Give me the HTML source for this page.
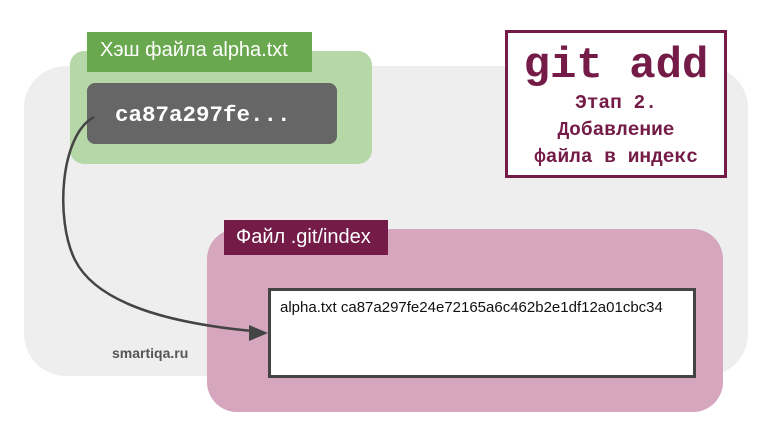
<!DOCTYPE html>
<html><head><meta charset="utf-8"><style>
body{margin:0;width:768px;height:436px;background:#fff;position:relative;overflow:hidden;font-family:"Liberation Sans",sans-serif}
div{position:absolute;box-sizing:border-box}
.mono{font-family:"Liberation Mono","DejaVu Sans Mono",monospace;font-weight:bold}
</style></head><body>
<div style="left:24px;top:66px;width:724px;height:310px;background:#eeeeee;border-radius:42px"></div>
<div style="left:70px;top:51px;width:302px;height:113px;background:#b6d7a8;border-radius:14px"></div>
<div style="left:87px;top:32px;width:225px;height:40px;background:#6aa84f;color:#fff;font-size:20px;line-height:36px;padding-left:13px;white-space:nowrap">Хэш файла alpha.txt</div>
<div class="mono" style="left:87px;top:83px;width:250px;height:61px;background:#666;border-radius:8px;color:#fff;font-size:22.5px;line-height:64px;padding-left:28px">ca87a297fe...</div>
<div style="left:505px;top:30px;width:222px;height:148px;background:#fff;border:3px solid #741b47"></div>
<div class="mono" style="left:505px;top:40px;width:222px;text-align:center;color:#741b47;font-size:44px;line-height:52px">git add</div>
<div class="mono" style="left:495px;top:90px;width:242px;text-align:center;color:#741b47;font-size:19.5px;line-height:27px;white-space:nowrap">Этап 2.<br>Добавление<br>файла в индекс</div>
<div style="left:207px;top:229px;width:516px;height:183px;background:#d5a6bd;border-radius:30px"></div>
<div style="left:224px;top:220px;width:164px;height:35px;background:#741b47;color:#fff;font-size:20px;line-height:34px;padding-left:12px;white-space:nowrap">Файл .git/index</div>
<div style="left:268px;top:288px;width:428px;height:90px;background:#fff;border:3px solid #444;font-size:15px;padding:8px 0 0 9px;color:#111;white-space:nowrap">alpha.txt ca87a297fe24e72165a6c462b2e1df12a01cbc34</div>
<div style="left:112px;top:345px;font-size:14px;font-weight:bold;color:#555">smartiqa.ru</div>
<svg width="768" height="436" style="position:absolute;left:0;top:0">
<path d="M94 117 C60 135,55 220,75 260 C100 310,190 325,252 331" fill="none" stroke="#444" stroke-width="2.5"/>
<polygon points="268,333 249,325 249,341" fill="#444"/>
</svg>
</body></html>
